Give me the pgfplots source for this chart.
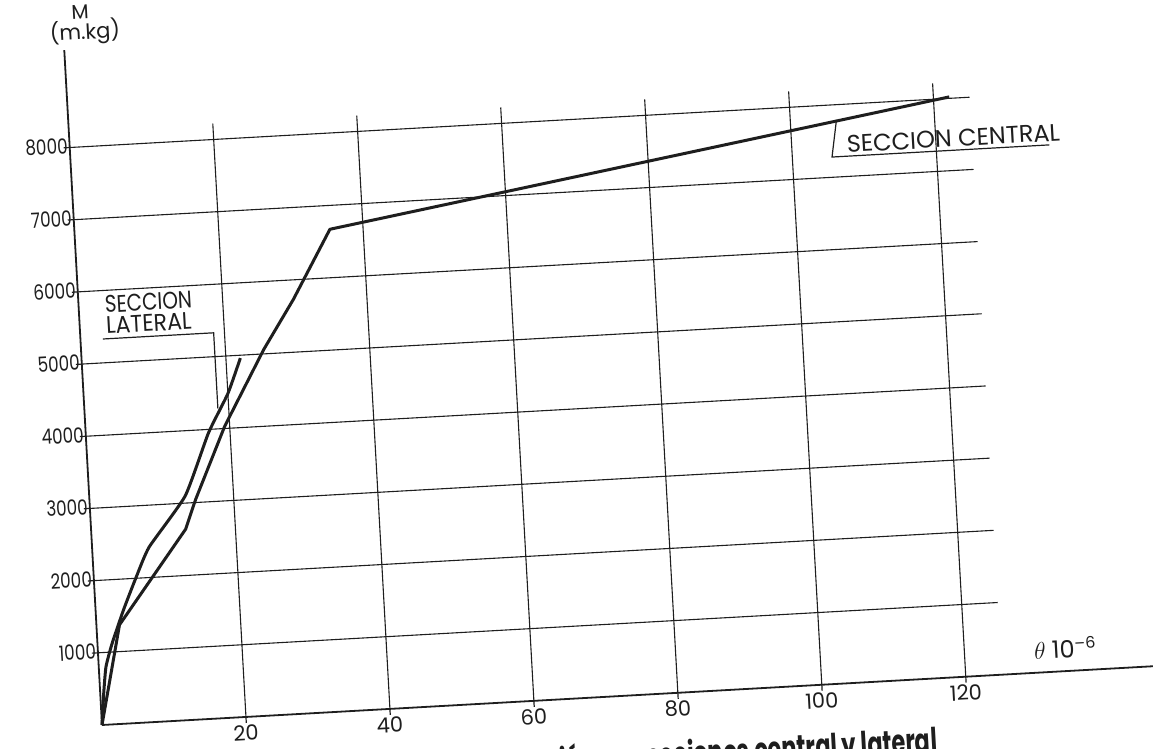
\documentclass[border=0pt]{standalone}
\usepackage{pgfplots}
\pgfplotsset{compat=1.18}
\usepackage{fontspec}
\setmainfont{Poppins}
\usepackage{graphicx}
\definecolor{ink}{HTML}{1E1E1E}
\begin{document}
\begin{tikzpicture}
\useasboundingbox (-51pt,-11.5pt) rectangle (528.5pt,362.5pt);
\begin{axis}[
  anchor=origin, at={(0pt,0pt)},
  rotate around={3.2:(0pt,0pt)},
  scale only axis, width=526.3pt, height=338pt,
  xmin=0, xmax=146, ymin=0, ymax=9350,
  axis x line=bottom, axis y line=left,
  axis line style={-, line width=0.9pt, ink},
  xtick={20,40,60,80,100,120}, ytick={1000,2000,3000,4000,5000,6000,7000,8000},
  tick align=outside, major tick length=3pt, tick style={ink, line width=0.6pt},
  /pgf/number format/assume math mode=true,
  /pgf/number format/1000 sep={},
  tick label style={text=ink, rotate=3.2},
  xticklabel style={yshift=2.5pt, font=\fontsize{10.5}{12}\selectfont},
  yticklabel style={xshift=5.5pt, font=\fontsize{10.5}{12}\selectfont},
  yticklabel={\scalebox{0.8}[1]{\pgfmathprintnumber{\tick}}},
  clip=false,
]
% grid
\pgfplotsinvokeforeach{20,40,60,80,100,120}{
  \draw[ink, line width=0.55pt] (axis cs:#1,0) -- (axis cs:#1,8220);
}
\pgfplotsinvokeforeach{1000,2000,3000,4000,5000,6000,7000,8000}{
  \draw[ink, line width=0.55pt] (axis cs:0,#1) -- (axis cs:125,#1);
}
% Seccion central
\addplot[ink, line width=1.5pt, line join=round] coordinates {
  (0,0) (3.2,1370) (13.1,2640) (14.7,3040) (19.3,4030) (25.3,5060)
  (29.8,5730) (35.4,6670) (122.2,8020)
};
% Seccion lateral
\addplot[ink, line width=1.5pt, line join=round, smooth, tension=0.3] coordinates {
  (0,0) (0.5,450) (1.0,800) (2.0,1110) (3.9,1580) (5.9,2020) (7.9,2420)
  (13.3,3100) (17.0,3950) (20.0,4480) (22.0,4960)
};
% annotations
\draw[ink, line width=0.6pt] (axis cs:3.1,5330) -- (axis cs:18.5,5330) -- (axis cs:18.5,4280);
\node[anchor=base west, rotate=3.2, inner sep=0pt, text=ink, font=\fontsize{12}{12}\selectfont] at (axis cs:3.6,5690) {\scalebox{0.83}[1]{SECCION}};
\node[anchor=base west, rotate=3.2, inner sep=0pt, text=ink, font=\fontsize{12}{12}\selectfont] at (axis cs:3.6,5400) {\scalebox{0.92}[1]{LATERAL}};
\draw[ink, line width=0.6pt] (axis cs:106.4,7790) -- (axis cs:105.5,7280) -- (axis cs:135.7,7280);
\node[anchor=base west, rotate=3.2, inner sep=0pt, text=ink, font=\fontsize{12}{12}\selectfont] at (axis cs:107.6,7330) {SECCION CENTRAL};
% axis labels
\node[rotate=3.2, inner sep=0pt, text=ink, font=\fontsize{10}{10}\selectfont] at (axis cs:2.5,9860) {M};
\node[rotate=3.2, inner sep=0pt, text=ink, font=\fontsize{10.5}{10.5}\selectfont] at (axis cs:3.0,9580) {(m.kg)};
\node[rotate=3.2, inner sep=0pt, text=ink, font=\fontsize{12}{12}\selectfont] at (axis cs:134,320) {$\theta$ 10\textsuperscript{–6}};
% caption (cut by the page edge, as in the scan)
\node[anchor=base east, rotate=3.2, inner sep=0pt, text=ink, font=\fontsize{17}{17}\selectfont\bfseries] at (axis cs:115.6,-1020) {\scalebox{0.66}[1]{rotación en secciones central y lateral}};
\end{axis}
\end{tikzpicture}
\end{document}
